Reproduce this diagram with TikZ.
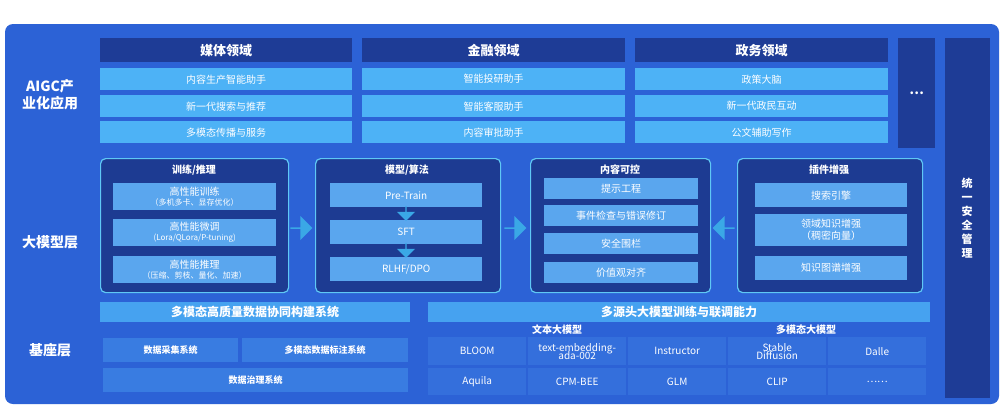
\documentclass[tikz,border=0pt]{standalone}
\usepackage{fontspec}
\setmainfont{Noto Sans CJK SC}
\usetikzlibrary{shapes.arrows}
\definecolor{bgb}{HTML}{2C62D6}
\definecolor{navy}{HTML}{1E3C96}
\definecolor{lite}{HTML}{4DB2F6}
\definecolor{inner}{HTML}{5AA6EE}
\definecolor{panel}{HTML}{1D3B92}
\definecolor{edge}{HTML}{5FC8F5}
\definecolor{cell}{HTML}{346FDC}
\definecolor{arr}{HTML}{3AA8E6}
\tikzset{
 hdr/.style={fill=navy,text=white,font=\bfseries\fontsize{13}{14}\selectfont},
 itm/.style={fill=lite,text=white,font=\fontsize{10}{12}\selectfont},
 pnl/.style={fill=panel,draw=edge,line width=1.2pt,rounded corners=5pt},
 inb/.style={fill=inner,text=white,font=\fontsize{10}{12}\selectfont,align=center},
 cel/.style={fill=cell,text=white,font=\fontsize{10}{11}\selectfont,align=center},
 lbl/.style={text=white,font=\bfseries\fontsize{14}{17}\selectfont,align=center},
 ttl/.style={text=white,font=\bfseries\fontsize{10}{12}\selectfont},
 bar/.style={fill=lite!80!bgb,text=white,font=\bfseries\fontsize{12}{14}\selectfont},
 rarr/.style={single arrow,fill=arr,minimum width=24pt,single arrow head extend=3pt,minimum height=22pt,inner sep=0pt},
 darr/.style={single arrow,fill=arr,shape border rotate=270,minimum width=18pt,single arrow head extend=3pt,minimum height=15pt,inner sep=0pt}
}
\begin{document}
\begin{tikzpicture}[x=1pt,y=-1pt]
\useasboundingbox (0,0) rectangle (1004,410);
\fill[white] (0,0) rectangle (1004,410);
\fill[bgb,rounded corners=8pt] (5,24) rectangle (999,404);
% right
\node[fill=navy,minimum width=45pt,minimum height=360pt,anchor=north west] (sec) at (945,38) {};
\node[text=white,font=\bfseries\fontsize{11}{14}\selectfont,align=center] (sect) at (967,218) {统\\一\\安\\全\\管\\理};
% top
\node[lbl] (aigc) at (50,95) {AIGC产\\业化应用};
\foreach \n/\x/\w/\t in {h1/100/252/媒体领域,h2/362/263/金融领域,h3/635/253/政务领域}
 \node[hdr,minimum width=\w pt,minimum height=24pt,inner sep=0pt,anchor=north west] (\n) at (\x,38) {\t};
\node[hdr,minimum width=37pt,minimum height=110pt,inner sep=0pt,anchor=north west] (more) at (898,38) {…};
\foreach \n/\x/\w/\y/\t in {
 a1/100/252/68/内容生产智能助手, a2/100/252/95/新一代搜索与推荐, a3/100/252/121/多模态传播与服务,
 b1/362/263/68/智能投研助手, b2/362/263/95/智能客服助手, b3/362/263/121/内容审批助手,
 c1/635/253/68/政策大脑, c2/635/253/95/新一代政民互动, c3/635/253/121/公文辅助写作}
 \node[itm,minimum width=\w pt,minimum height=22pt,inner sep=0pt,anchor=north west] (\n) at (\x,\y) {\t};
% middle
\node[lbl] (dmx) at (50,242) {大模型层};
\node[pnl,minimum width=188pt,minimum height=134pt,anchor=north west] (p1) at (100,158) {};
\node[pnl,minimum width=185pt,minimum height=134pt,anchor=north west] (p2) at (315,158) {};
\node[pnl,minimum width=180pt,minimum height=134pt,anchor=north west] (p3) at (530,158) {};
\node[pnl,minimum width=185pt,minimum height=134pt,anchor=north west] (p4) at (737,158) {};
\node[ttl] (t1) at (194,170) {训练/推理};
\node[ttl] (t2) at (407,170) {模型/算法};
\node[ttl] (t3) at (620,170) {内容可控};
\node[ttl] (t4) at (829,170) {插件增强};
\foreach \n/\y/\t in {i1/183/{高性能训练\\[-2pt]{\fontsize{8}{9}\selectfont（多机多卡、显存优化）}},
 i2/219/{高性能微调\\[-2pt]{\fontsize{8}{9}\selectfont (Lora/QLora/P-tuning)}},
 i3/256/{高性能推理\\[-2pt]{\fontsize{8}{9}\selectfont（压缩、剪枝、量化、加速）}}}
 \node[inb,minimum width=163pt,minimum height=27pt,inner sep=0pt,anchor=north west] (\n) at (113,\y) {\t};
\foreach \n/\y/\t in {m1/183/{Pre-Train},m2/220/{SFT},m3/257/{RLHF/DPO}}
 \node[inb,minimum width=152pt,minimum height=24pt,inner sep=0pt,anchor=north west] (\n) at (330,\y) {\t};
\node[darr] (d1) at (406,213) {};
\node[darr] (d2) at (406,250) {};
\foreach \n/\y/\t in {k1/178/提示工程,k2/205/事件检查与错误修订,k3/233/安全围栏,k4/262/价值观对齐}
 \node[inb,minimum width=154pt,minimum height=21pt,inner sep=0pt,anchor=north west] (\n) at (544,\y) {\t};
\node[inb,minimum width=152pt,minimum height=24pt,inner sep=0pt,anchor=north west] (g1) at (755,183) {搜索引擎};
\node[inb,minimum width=152pt,minimum height=32pt,inner sep=0pt,anchor=north west] (g2) at (755,214) {领域知识增强\\（稠密向量）};
\node[inb,minimum width=152pt,minimum height=24pt,inner sep=0pt,anchor=north west] (g3) at (755,256) {知识图谱增强};
\node[rarr] (r1) at (301,228) {};
\node[rarr] (r2) at (515,228) {};
\node[rarr,shape border rotate=180] (r3) at (724,228) {};
% bottom
\node[lbl] (jz) at (50,350) {基座层};
\node[bar,minimum width=310pt,minimum height=20pt,inner sep=0pt,anchor=north west] (bar1) at (100,302) {多模态高质量数据协同构建系统};
\node[bar,minimum width=502pt,minimum height=20pt,inner sep=0pt,anchor=north west] (bar2) at (428,302) {多源头大模型训练与联调能力};
\tikzset{sys/.style={cel,font=\bfseries\fontsize{9}{10}\selectfont,minimum height=24pt,inner sep=0pt,anchor=north west,fill=cell!80!lite}}
\node[sys,minimum width=135pt] (s1) at (103,338) {数据采集系统};
\node[sys,minimum width=166pt] (s2) at (242,338) {多模态数据标注系统};
\node[sys,minimum width=305pt] (s3) at (103,368) {数据治理系统};
\node[ttl] (wb) at (557,330) {文本大模型};
\node[ttl] (dm) at (806,330) {多模态大模型};
\foreach \n/\x/\t in {x1/428/BLOOM,x2/528/{text-embedding-\\[-3pt]ada-002},x3/628/Instructor,x4/728/{Stable\\[-3pt]Diffusion},x5/828/Dalle}
 \node[cel,minimum width=98pt,minimum height=28pt,inner sep=0pt,anchor=north west] (\n) at (\x,337) {\t};
\foreach \n/\x/\t in {y1/428/Aquila,y2/528/CPM-BEE,y3/628/GLM,y4/728/CLIP,y5/828/{……}}
 \node[cel,minimum width=98pt,minimum height=27pt,inner sep=0pt,anchor=north west] (\n) at (\x,368) {\t};
\end{tikzpicture}
\end{document}
